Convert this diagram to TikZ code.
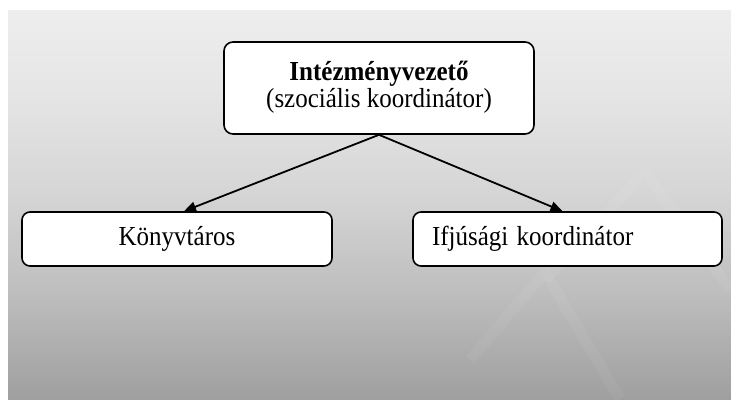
\documentclass[tikz,border=0pt]{standalone}
\usepackage{fontspec}
\setmainfont{Liberation Serif}
\usetikzlibrary{arrows.meta}
\definecolor{g0}{HTML}{777777}
\definecolor{g1}{HTML}{878787}
\definecolor{g2}{HTML}{A0A0A0}
\definecolor{g3}{HTML}{BDBDBD}
\definecolor{g4}{HTML}{D5D5D5}
\definecolor{g5}{HTML}{E5E5E5}
\definecolor{g6}{HTML}{EFEFEF}
\definecolor{g7}{HTML}{F7F7F7}
\pgfdeclareverticalshading{bgshade}{100bp}{color(0bp)=(g0); color(12.6bp)=(g1); color(25.4bp)=(g2); color(38.3bp)=(g3); color(51.2bp)=(g4); color(64bp)=(g5); color(76.9bp)=(g6); color(100bp)=(g7)}
\newcommand{\tallt}[1]{\scalebox{1}[1.1]{#1}}
\tikzset{
  box/.style={draw=black, line width=1.6pt, fill=white, rounded corners=9pt, inner sep=0pt, font=\fontsize{25}{23}\selectfont},
  conn/.style={line width=1.8pt, -{Triangle[length=12pt,width=10pt]}},
  wmark/.style={draw=white, opacity=0.05, line width=11pt}
}
\begin{document}
\begin{tikzpicture}[x=1pt,y=-1pt]
\useasboundingbox (0,0) rectangle (731,399);
\fill[white] (0,0) rectangle (731,399);
\shade[shading=bgshade] (8,10) rectangle (731,399);
% faint watermark
\draw[wmark, line cap=butt] (545,280) -- (645,172) -- (731,290);
\draw[wmark, line cap=butt] (470,360) -- (545,272) -- (620,399);
\node[box, minimum width=310pt, minimum height=92pt] (top) at (379,88)
  {\tallt{\begin{tabular}{@{}c@{}}\textbf{Intézményvezető}\\(szociális koordinátor)\end{tabular}}};
\node[box, rounded corners=8pt, minimum width=310pt, minimum height=54pt] (left) at (177,239) {\tallt{Könyvtáros}};
\node[box, rounded corners=8pt, minimum height=54pt, inner xsep=19pt, text width=271pt, align=left] (right) at (567.5,239) {\tallt{Ifjúsági koordinátor}};
\draw[conn] (top.south) -- ([xshift=7pt]left.north);
\draw[conn] (top.south) -- ([xshift=-5pt]right.north);
\end{tikzpicture}
\end{document}
